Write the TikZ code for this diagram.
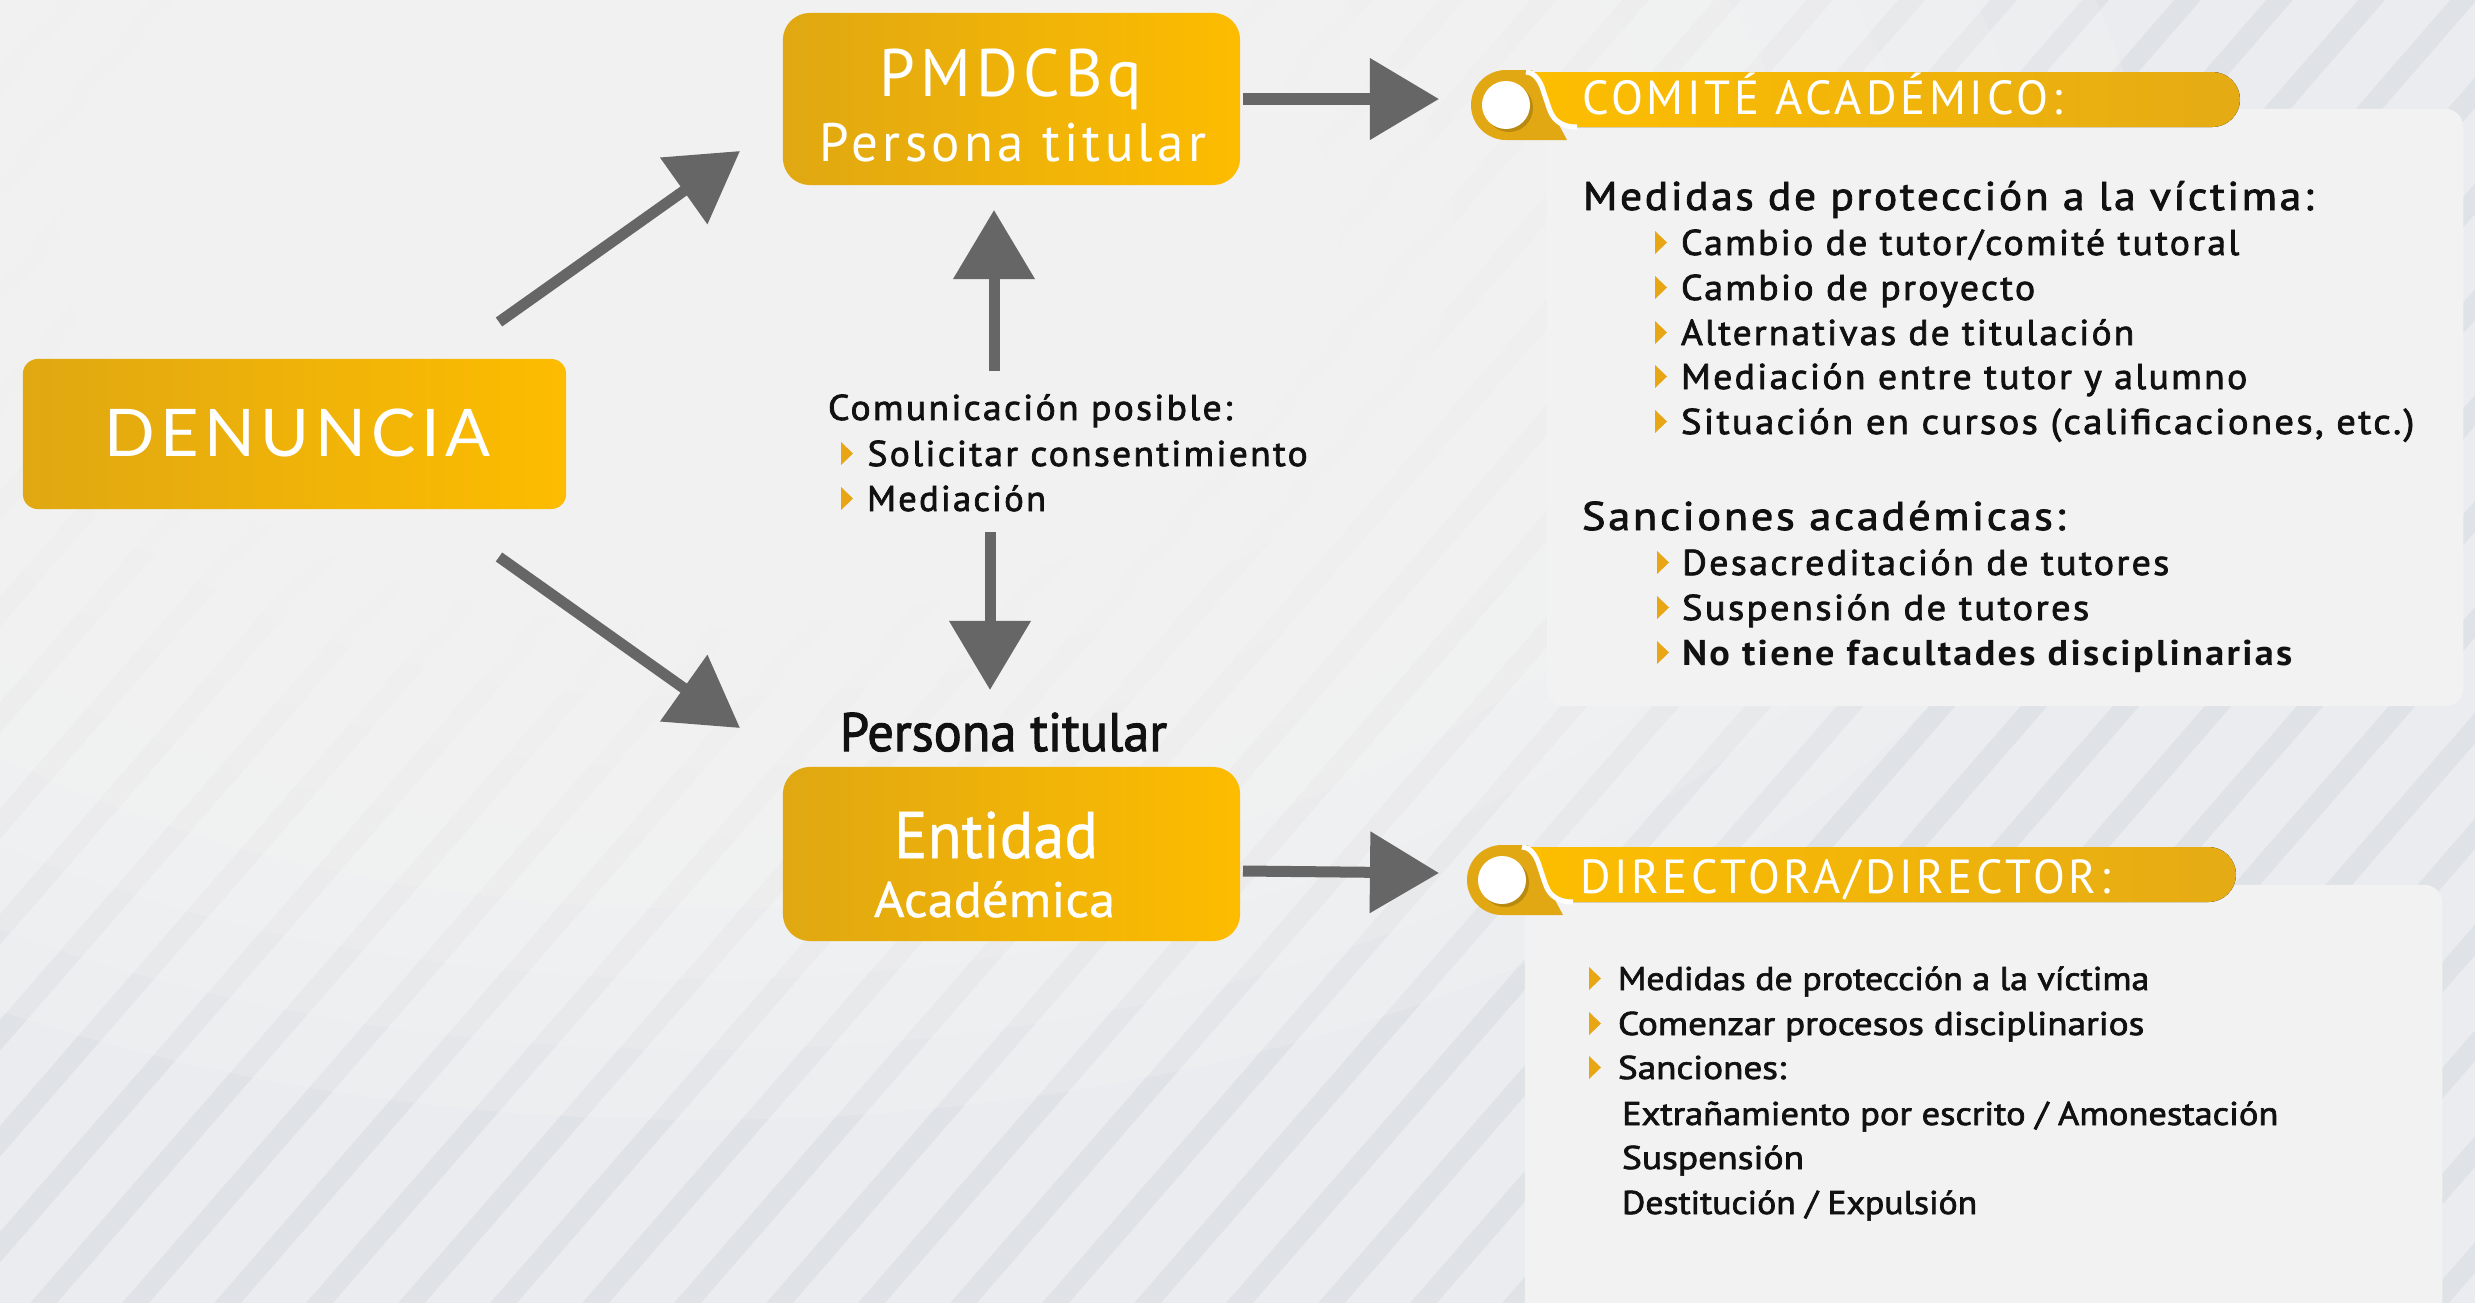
\documentclass[tikz,border=0pt]{standalone}
\usepackage{fontspec}
\usepackage{graphicx}
\usetikzlibrary{arrows.meta}
\setmainfont{PT Sans}
\newfontfamily\latofont{Lato}[LetterSpace=8]
\newfontfamily\spfont{PT Sans}[LetterSpace=8]
\newfontfamily\spmfont{PT Sans}[LetterSpace=6,FakeBold=2]
\newfontfamily\spbfont{PT Sans Bold}[LetterSpace=6]
\newfontfamily\cnfont{PT Sans}[FakeBold=2]
\newfontfamily\cwfont{PT Sans}[FakeBold=0.8]
\definecolor{ylL}{HTML}{E0A812}
\definecolor{ylR}{HTML}{FDBC00}
\definecolor{pillL}{HTML}{FDBE00}
\definecolor{pillR}{HTML}{E5AB14}
\definecolor{curlc}{HTML}{E2A814}
\definecolor{shadc}{HTML}{B88A10}
\definecolor{arrg}{HTML}{666666}
\definecolor{panelc}{HTML}{F2F2F2}
\definecolor{bgc}{HTML}{EAECEF}
\definecolor{stripec}{HTML}{DFE2E6}
\definecolor{bgl}{HTML}{F5F5F5}
\definecolor{bulc}{HTML}{E8A614}
\definecolor{ink}{HTML}{111111}
\newsavebox\fitbox
\newlength\fitlen
\newcommand\fitto[2]{\sbox\fitbox{#2}\setlength\fitlen{\wd\fitbox}\pgfmathsetmacro\fitr{#1*0.28453/\fitlen}\scalebox{\fitr}[1]{\usebox\fitbox}}
\newcommand\bul[2]{\fill[bulc] ({#1},{#2-11.5}) -- ({#1+12},{#2}) -- ({#1},{#2+11.5}) -- cycle;}
% #1 cx, #2 cy, #3 text dx, #4 text dy, #5 width, #6 name, #7 text
\newcommand\badge[7]{%
\begin{scope}[shift={(#1,#2)}]
 \fill[curlc] (61,35) -- (0,35) arc[start angle=90,end angle=270,radius=35] -- (26,-35) -- (45,5) -- cycle;
 \fill[left color=pillL, right color=pillR] (20,-33) -- (706.5,-33) arc[start angle=270,end angle=450,radius=27.5] -- (71,22) .. controls (52,22) and (46,12) .. (43,3) -- (36,-18) .. controls (32,-28) and (26,-33) .. (20,-33) -- cycle;
 \draw[white, line width=0.05cm] (71,22) .. controls (52,22) and (46,12) .. (43,3) -- (36,-18) .. controls (32,-28) and (26,-33) .. (20,-33);
 \fill[shadc] (3,3) circle[radius=24];
 \fill[white] (0,0) circle[radius=24];
 \node[txt, text=white] (#6) at (#3,#4) {\spfont\fontsize{13.6pt}{15pt}\selectfont\fitto{#5}{#7}};
\end{scope}}
\begin{document}
\begin{tikzpicture}[x=0.01cm,y=-0.01cm,
  txt/.style={inner sep=0pt, outer sep=0pt, anchor=base west},
  ctxt/.style={inner sep=0pt, outer sep=0pt, anchor=base},
  ybox/.style={left color=ylL, right color=ylR, inner sep=0pt},
  panel/.style={fill=panelc, rounded corners=0.18cm, inner sep=0pt},
  arr/.style={draw=arrg, line width=0.11cm, -{Triangle[length=0.69cm,width=0.79cm]}},
  stripe/.style={draw=stripec, line width=0.2cm}]
\clip (0,0) rectangle (2475,1303);
\fill[bgc] (0,0) rectangle (2475,1303);
\foreach \i in {-15,...,28} {\draw[stripe] ({\i*92},1353) -- ({\i*92+1219},-50);}
\foreach \s in {1.0,0.92,0.84,0.76,0.68,0.6,0.52,0.44,0.36,0.28,0.2,0.12} {\fill[bgl, opacity=0.24] (700,240) ellipse [x radius={1450*\s}, y radius={880*\s}];}

% boxes
\node[ybox, minimum width=5.43cm, minimum height=1.50cm, rounded corners=0.15cm] (den) at (294.5,434) {};
\node[ybox, minimum width=4.57cm, minimum height=1.72cm, rounded corners=0.27cm] (pm) at (1011.5,99) {};
\node[ybox, minimum width=4.57cm, minimum height=1.74cm, rounded corners=0.27cm] (ent) at (1011.5,854) {};
\node[ctxt, text=white] (denT) at (297.5,456) {\latofont\fontsize{18.7pt}{20pt}\selectfont\fitto{385}{DENUNCIA}};
\node[ctxt, text=white] (pmT) at (1011,97) {\spfont\fontsize{19.1pt}{20pt}\selectfont\fitto{262}{PMDCBq}};
\node[ctxt, text=white] (pmT2) at (1013,161) {\spfont\fontsize{15.4pt}{16pt}\selectfont\fitto{386}{Persona titular}};
\node[ctxt, text=white] (entT) at (996,858) {\cwfont\fontsize{18.7pt}{20pt}\selectfont\fitto{204}{Entidad}};
\node[ctxt, text=white] (entT2) at (994.5,917) {\cwfont\fontsize{14.2pt}{15pt}\selectfont\fitto{241}{Académica}};
\node[ctxt, text=ink] (ptl) at (1003.5,751) {\cnfont\fontsize{15.4pt}{16pt}\selectfont\fitto{327}{Persona titular}};

% comunicacion
\node[txt, text=ink] (com0) at (828,420) {\spmfont\fontsize{10.2pt}{11pt}\selectfont\fitto{404}{Comunicación posible:}};
\bul{841}{453.5}
\node[txt, text=ink] (com1) at (867.5,466) {\spmfont\fontsize{10.2pt}{11pt}\selectfont\fitto{440}{Solicitar consentimiento}};
\bul{841}{498.5}
\node[txt, text=ink] (com2) at (867,511) {\spmfont\fontsize{10.2pt}{11pt}\selectfont\fitto{179}{Mediación}};

% panels
\node[panel, minimum width=9.16cm, minimum height=5.97cm] (cpan) at (2005,407.5) {};
\node[panel, minimum width=9.17cm, minimum height=4.55cm] (dpan) at (1983.5,1112.5) {};
\badge{1506}{105}{76}{9}{480}{cT}{COMITÉ ACADÉMICO:}
\badge{1502}{880}{78}{13}{530}{dT}{DIRECTORA/DIRECTOR:}

% comite text
\node[txt, text=ink] (c0) at (1583,210) {\spmfont\fontsize{11.4pt}{12pt}\selectfont\fitto{730}{Medidas de protección a la víctima:}};
\bul{1655}{242.5}
\node[txt, text=ink] (c1) at (1681,255) {\spmfont\fontsize{10.2pt}{11pt}\selectfont\fitto{558}{Cambio de tutor/comité tutoral}};
\bul{1655}{287.5}
\node[txt, text=ink] (c2) at (1681,300) {\spmfont\fontsize{10.2pt}{11pt}\selectfont\fitto{354}{Cambio de proyecto}};
\bul{1655}{332.5}
\node[txt, text=ink] (c3) at (1681,345) {\spmfont\fontsize{10.2pt}{11pt}\selectfont\fitto{453}{Alternativas de titulación}};
\bul{1655}{376.5}
\node[txt, text=ink] (c4) at (1681,389) {\spmfont\fontsize{10.2pt}{11pt}\selectfont\fitto{566}{Mediación entre tutor y alumno}};
\bul{1655}{421.5}
\node[txt, text=ink] (c5) at (1681,434) {\spmfont\fontsize{10.2pt}{11pt}\selectfont\fitto{733}{Situación en cursos (calificaciones, etc.)}};
\node[txt, text=ink] (s0) at (1582,530) {\spmfont\fontsize{11.4pt}{12pt}\selectfont\fitto{483}{Sanciones académicas:}};
\bul{1657}{562.5}
\node[txt, text=ink] (s1) at (1682,575) {\spmfont\fontsize{10.2pt}{11pt}\selectfont\fitto{487}{Desacreditación de tutores}};
\bul{1657}{607.5}
\node[txt, text=ink] (s2) at (1682,620) {\spmfont\fontsize{10.2pt}{11pt}\selectfont\fitto{407}{Suspensión de tutores}};
\bul{1657}{652.5}
\node[txt, text=ink] (s3) at (1682,665) {\spbfont\fontsize{10.2pt}{11pt}\selectfont\fitto{610}{No tiene facultades disciplinarias}};

% directora text
\bul{1589}{978.5}
\node[txt, text=ink] (d1) at (1618,990) {\cnfont\fontsize{9.35pt}{10pt}\selectfont\fitto{531}{Medidas de protección a la víctima}};
\bul{1589}{1023.5}
\node[txt, text=ink] (d2) at (1618,1035) {\cnfont\fontsize{9.35pt}{10pt}\selectfont\fitto{526}{Comenzar procesos disciplinarios}};
\bul{1589}{1067.5}
\node[txt, text=ink] (d3) at (1618,1079) {\cnfont\fontsize{9.35pt}{10pt}\selectfont\fitto{168}{Sanciones:}};
\node[txt, text=ink] (d4) at (1622,1125) {\cnfont\fontsize{9.35pt}{10pt}\selectfont\fitto{656}{Extrañamiento por escrito / Amonestación}};
\node[txt, text=ink] (d5) at (1622,1169) {\cnfont\fontsize{9.35pt}{10pt}\selectfont\fitto{182}{Suspensión}};
\node[txt, text=ink] (d6) at (1622,1214) {\cnfont\fontsize{9.35pt}{10pt}\selectfont\fitto{355}{Destitución / Expulsión}};

% connectors
\coordinate (a1s) at (499,322); \coordinate (a1e) at (740,151);
\coordinate (a2s) at (499,557); \coordinate (a2e) at (740,728);
\coordinate (a3s) at (1243,99); \coordinate (a3e) at (1439,99);
\coordinate (a4s) at (1243,871); \coordinate (a4e) at (1439,873);
\coordinate (a5s) at (994,371); \coordinate (a5e) at (994,210);
\coordinate (a6s) at (990,532); \coordinate (a6e) at (990,690);
\draw[arr] (a1s) -- (a1e);
\draw[arr] (a2s) -- (a2e);
\draw[arr] (a3s) -- (a3e);
\draw[arr] (a4s) -- (a4e);
\draw[arr] (a5s) -- (a5e);
\draw[arr] (a6s) -- (a6e);
\end{tikzpicture}
\end{document}
